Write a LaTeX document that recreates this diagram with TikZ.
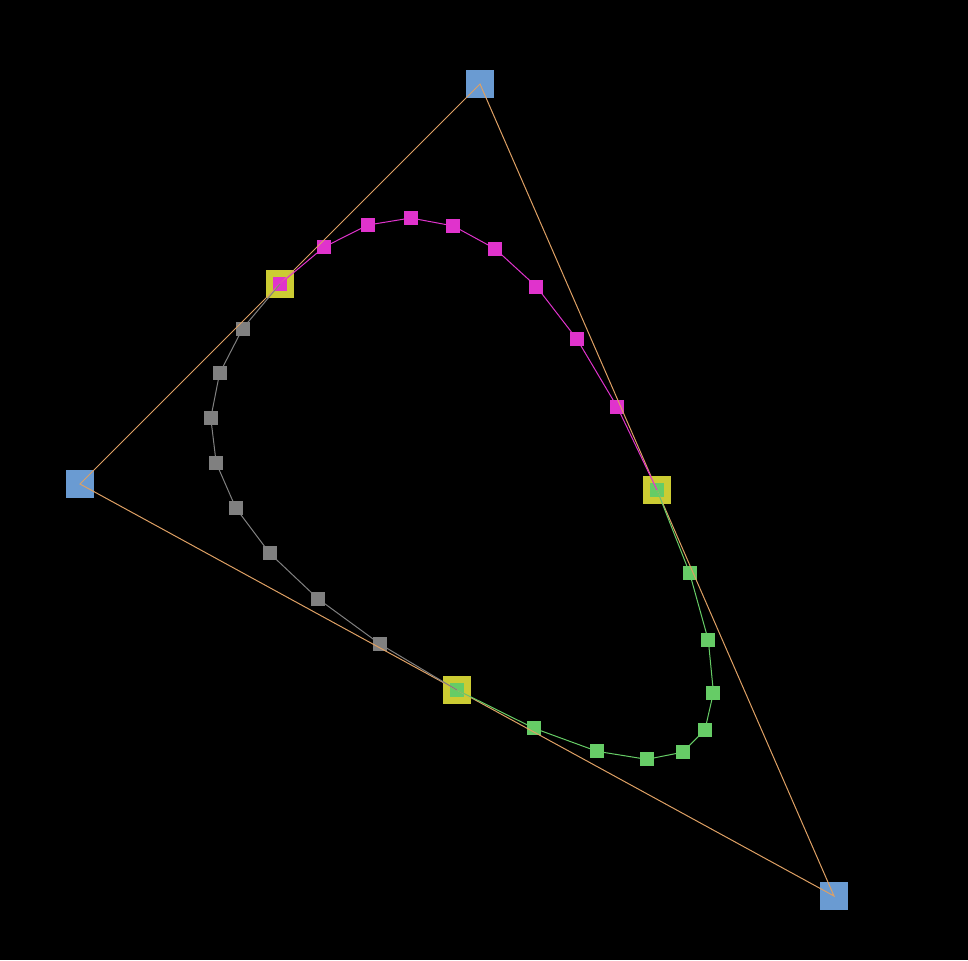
\documentclass[tikz,border=0pt]{standalone}
\usetikzlibrary{calc}

\definecolor{cornerblue}{RGB}{106,155,210}
\definecolor{midyellow}{RGB}{204,204,51}
\definecolor{dotmagenta}{RGB}{224,51,204}
\definecolor{dotgreen}{RGB}{102,204,102}
\definecolor{dotgray}{RGB}{128,128,128}
\definecolor{hullorange}{RGB}{222,160,100}

\begin{document}
\begin{tikzpicture}[
    x=1pt, y=-1pt,
    corner/.style={rectangle, fill=cornerblue, minimum size=28pt, inner sep=0pt},
    mid/.style={rectangle, fill=midyellow, minimum size=28pt, inner sep=0pt},
    dot/.style={rectangle, minimum size=14pt, inner sep=0pt},
    hull/.style={draw=hullorange, line width=1pt},
    curve/.style={line width=1pt}
]

    % Background
    \fill[black] (0,0) rectangle (968,960);

    % Control polygon corners
    \node[corner] (A) at (480,84) {};
    \node[corner] (B) at (80,484) {};
    \node[corner] (C) at (834,896) {};

    % Edge midpoints
    \node[mid] (mAB) at ($(A)!0.5!(B)$) {};
    \node[mid] (mAC) at ($(A)!0.5!(C)$) {};
    \node[mid] (mBC) at ($(B)!0.5!(C)$) {};

    % Sample points: gray (mBC -> B -> mAB)
    \foreach \k in {0,...,9} {
        \pgfmathsetmacro\t{\k/9}
        \coordinate (p) at ($(mBC)!\t!(B)$);
        \coordinate (q) at ($(B)!\t!(mAB)$);
        \node[dot, fill=dotgray] (g\k) at ($(p)!\t!(q)$) {};
    }

    % Sample points: magenta (mAB -> A -> mAC)
    \foreach \k in {0,...,9} {
        \pgfmathsetmacro\t{\k/9}
        \coordinate (p) at ($(mAB)!\t!(A)$);
        \coordinate (q) at ($(A)!\t!(mAC)$);
        \node[dot, fill=dotmagenta] (m\k) at ($(p)!\t!(q)$) {};
    }

    % Sample points: green (mAC -> C -> mBC)
    \foreach \k in {0,...,9} {
        \pgfmathsetmacro\t{\k/9}
        \coordinate (p) at ($(mAC)!\t!(C)$);
        \coordinate (q) at ($(C)!\t!(mBC)$);
        \node[dot, fill=dotgreen] (n\k) at ($(p)!\t!(q)$) {};
    }

    % Control polygon
    \draw[hull] (A.center) -- (C.center) -- (B.center) -- cycle;

    % Curve polylines
    \foreach \k [remember=\k as \j (initially 0)] in {1,...,9} {
        \draw[curve, dotgray] (g\j.center) -- (g\k.center);
        \draw[curve, dotmagenta] (m\j.center) -- (m\k.center);
        \draw[curve, dotgreen] (n\j.center) -- (n\k.center);
    }

\end{tikzpicture}
\end{document}
